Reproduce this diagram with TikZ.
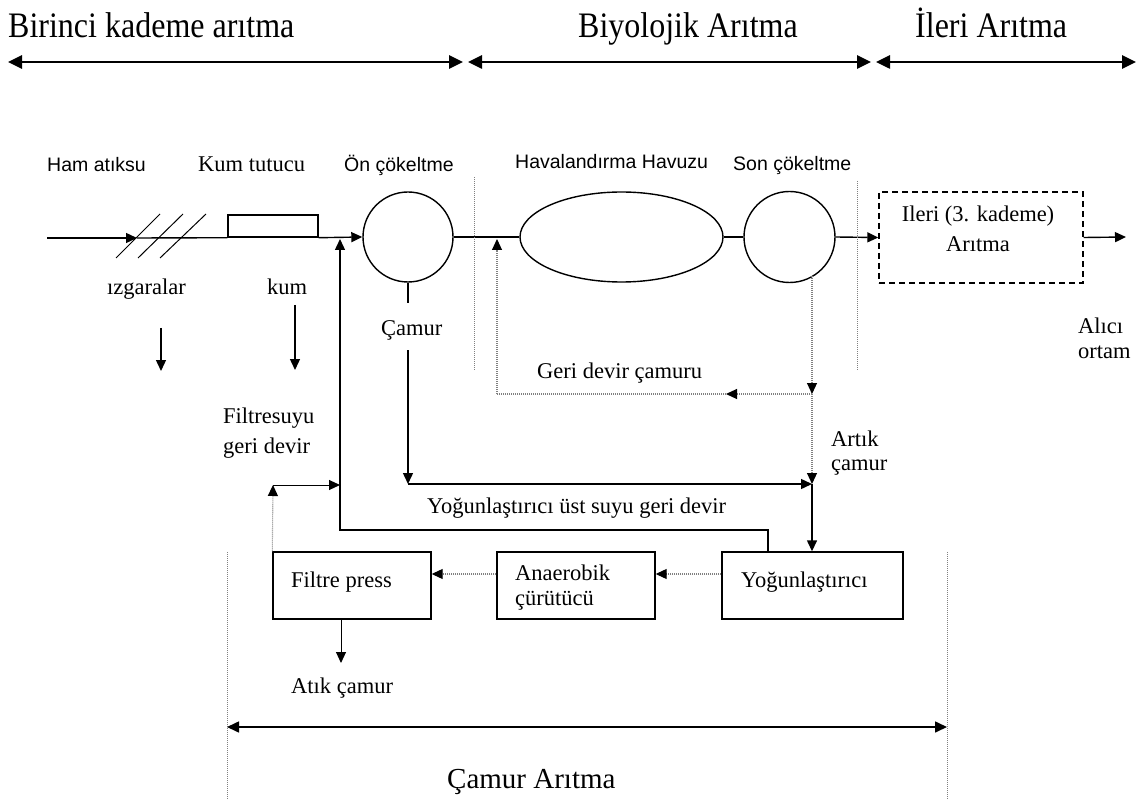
\documentclass[tikz,border=0pt]{standalone}
\usepackage{fontspec}
\setmainfont{Liberation Serif}
\newfontfamily\sansf{Liberation Sans}
\usetikzlibrary{arrows.meta,shapes.geometric}
\begin{document}
\begin{tikzpicture}[x=1pt,y=-1pt,
  ln/.style={draw=black,line width=1.4pt},
  arr/.style={ln,-{Triangle[length=11pt,width=10pt]}},
  thin arr/.style={draw=black,line width=1pt,-{Triangle[length=11pt,width=10pt]}},
  dotl/.style={draw=gray,line width=1.1pt,dash pattern=on 1pt off 1pt},
  dotarr/.style={dotl,-{Triangle[length=11pt,width=10pt,color=black,fill=black]}},
  sep/.style={draw=gray,line width=1pt,dash pattern=on 1pt off 1pt},
  big arr/.style={draw=black,line width=2.6pt,{Triangle[length=14pt,width=13pt]}-{Triangle[length=14pt,width=13pt]}},
  box/.style={draw=black,line width=1.4pt,inner sep=0pt},
  ser/.style={font=\fontsize{22.5}{25}\selectfont,inner sep=0pt,anchor=base west},
  sans/.style={font=\sansf\fontsize{19.5}{22}\selectfont,inner sep=0pt,anchor=base west},
  head/.style={font=\fontsize{32}{34}\selectfont,inner sep=0pt,anchor=base west},
]
\useasboundingbox (0,0) rectangle (1145,799);

% --- top headings
\node[head] (h1) at (8,38) {\scalebox{1}[1.12]{Birinci kademe arıtma}};
\node[head] (h2) at (578,38) {\scalebox{1}[1.12]{Biyolojik Arıtma}};
\node[head] (h3) at (915,38) {\scalebox{1}[1.12]{İleri Arıtma}};
\coordinate (t0) at (8,62);
\coordinate (t1) at (463,62);
\coordinate (t2) at (468,62);
\coordinate (t3) at (871,62);
\coordinate (t4) at (876,62);
\coordinate (t5) at (1136,62);
\draw[big arr] (t0) -- (t1);
\draw[big arr] (t2) -- (t3);
\draw[big arr] (t4) -- (t5);

% --- labels of units
\node[sans] (lham) at (47,172) {Ham atıksu};
\node[ser] (lkum) at (198,172) {Kum tutucu};
\node[sans] (lon) at (344,172) {Ön çökeltme};
\node[sans] (lhav) at (515,169) {Havalandırma Havuzu};
\node[sans] (lson) at (733,171) {Son çökeltme};

% --- units
\node[box,minimum width=90pt,minimum height=22pt] (kum) at (273,226) {};
\node[draw=black,line width=1.4pt,circle,minimum size=90pt,inner sep=0pt] (on) at (408,237) {};
\node[draw=black,line width=1.4pt,ellipse,minimum width=203pt,minimum height=90pt,inner sep=0pt] (hav) at (621.5,237) {};
\node[draw=black,line width=1.4pt,circle,minimum size=91pt,inner sep=0pt] (son) at (789.5,237) {};
\node[draw=black,line width=1.4pt,dash pattern=on 6pt off 4pt,minimum width=204pt,minimum height=91pt,inner sep=0pt] (ileri) at (981,237.5) {};
\node[ser,anchor=base] (til1) at (978,222) {Ileri (3. kademe)};
\node[ser,anchor=base] (til2) at (978,252) {Arıtma};

% --- screens
\coordinate (in) at (47,238);
\coordinate (grid) at (137,238);
\draw[arr] (in) -- (grid);
\draw[ln] (grid) -- (kum.south west);
\draw[line width=1pt] (116,258) -- (160,214);
\draw[line width=1pt] (138,258) -- (183,214);
\draw[line width=1pt] (160,258) -- (206,214);

% --- main line
\draw[arr] (kum.south east) -- (on.west);
\draw[ln] (on.east) -- (hav.west);
\draw[ln] (hav.east) -- (son.west);
\draw[arr] (son.east) -- (ileri.west);
\coordinate (out) at (1126,237);
\draw[arr] (ileri.east) -- (out);
\node[ser] (alici1) at (1078,334) {Alıcı};
\node[ser] (alici2) at (1078,358) {ortam};

% --- grit and screenings
\node[ser] (lizg) at (107,295) {ızgaralar};
\node[ser] (lkum2) at (267,295) {kum};
\coordinate (iz1) at (161,328);
\coordinate (iz2) at (161,371);
\draw[arr] (iz1) -- (iz2);
\coordinate (ku1) at (295,305);
\coordinate (ku2) at (295,370);
\draw[arr] (ku1) -- (ku2);

% --- separators
\draw[sep] (474,177) -- (474,370);
\draw[sep] (857,181) -- (857,370);
\draw[sep] (227,552) -- (227,799);
\draw[sep] (947,552) -- (947,799);

% --- primary sludge
\coordinate (cam0) at (408,303);
\draw[ln] (on.south) -- (cam0);
\node[ser] (lcam) at (381,335) {Çamur};
\coordinate (cam1) at (408,350);
\coordinate (cam2) at (408,484);
\coordinate (j1) at (812,484);
\draw[arr] (cam1) -- (cam2);
\draw[arr] (cam2) -- (j1);

% --- sludge units
\node[box,minimum width=181pt,minimum height=67pt] (yog) at (812.5,585.5) {};
\node[box,minimum width=158pt,minimum height=67pt] (ana) at (576,585.5) {};
\node[box,minimum width=158pt,minimum height=67pt] (fil) at (352,585.5) {};
\node[ser] (tyog) at (741,587) {Yoğunlaştırıcı};
\node[ser] (tana1) at (515,580) {Anaerobik};
\node[ser] (tana2) at (515,605) {çürütücü};
\node[ser] (tfil) at (291,587) {Filtre press};

% --- return sludge (dotted)
\coordinate (s0) at (812,276);
\coordinate (s1) at (812,394);
\coordinate (s2) at (726,394);
\coordinate (s3) at (497,394);
\coordinate (s4) at (497,239);
\draw[dotarr] (s0) -- (s1);
\draw[dotarr] (s1) -- (s2);
\draw[dotl] (s2) -- (s3);
\draw[dotarr] (s3) -- (s4);
\draw[dotarr] (s1) -- (j1);
\node[ser] (lgeri) at (537,378) {Geri devir çamuru};
\node[ser] (lart1) at (831,446) {Artık};
\node[ser] (lart2) at (831,470) {çamur};

% --- to thickener
\draw[arr] (j1) -- (yog.north -| j1);

% --- supernatant return
\coordinate (r0) at (768,552);
\coordinate (r1) at (768,530);
\coordinate (r2) at (340,530);
\coordinate (r3) at (340,239);
\draw[arr] (r0) -- (r1) -- (r2) -- (r3);
\node[ser] (lyog) at (427,513) {Yoğunlaştırıcı üst suyu geri devir};

% --- sludge line between units
\draw[dotarr] ([yshift=11.5pt]yog.west) -- ([yshift=11.5pt]ana.east);
\draw[dotarr] ([yshift=11.5pt]ana.west) -- ([yshift=11.5pt]fil.east);

% --- filtrate return
\coordinate (f1) at (273,485);
\coordinate (f2) at (340,485);
\draw[dotarr] (fil.north west) -- (f1);
\draw[thin arr] (f1) -- (f2);
\node[ser] (lfilt1) at (223,423) {Filtresuyu};
\node[ser] (lfilt2) at (223,453) {geri devir};

% --- cake
\coordinate (k0) at ([xshift=-11pt]fil.south);
\coordinate (k1) at (341,663);
\draw[thin arr] (k0) -- (k1);
\node[ser] (latik) at (291,693) {Atık çamur};

% --- sludge treatment span
\coordinate (b0) at (227,727);
\coordinate (b1) at (947,727);
\draw[draw=black,line width=1.6pt,{Triangle[length=12pt,width=11pt]}-{Triangle[length=12pt,width=11pt]}] (b0) -- (b1);
\node[font=\fontsize{29}{30}\selectfont,inner sep=0pt,anchor=base west] (lcamar) at (447,788) {Çamur Arıtma};
\end{tikzpicture}
\end{document}
